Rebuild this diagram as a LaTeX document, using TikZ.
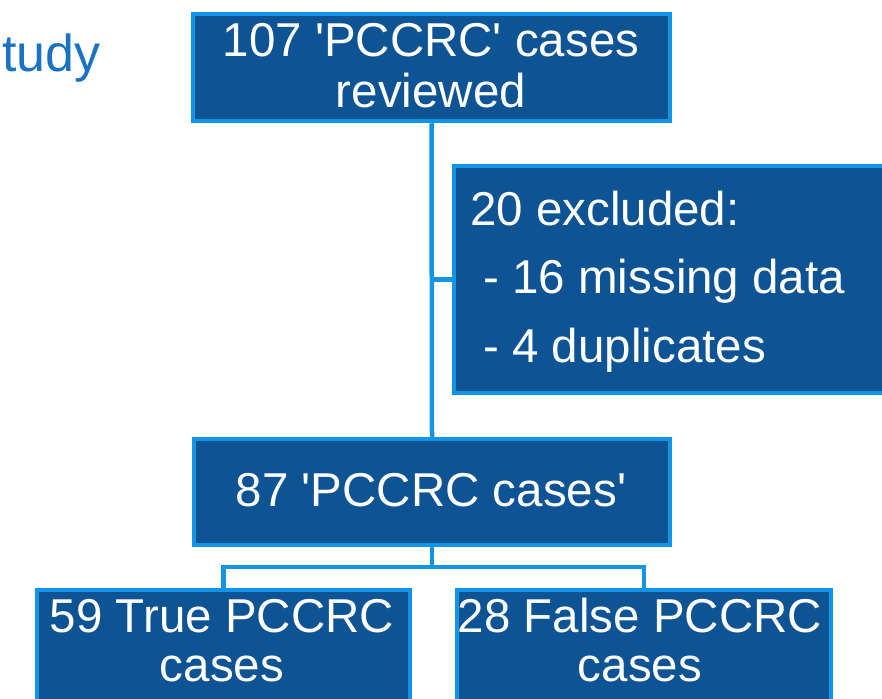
\documentclass[tikz,border=0pt]{standalone}
\usepackage{fontspec}
\setmainfont{Liberation Sans}
\definecolor{boxfill}{HTML}{0E5394}
\definecolor{boxline}{HTML}{1394E4}
\definecolor{titleblue}{HTML}{1A72C2}
\newcommand{\sq}{\textquotesingle}
\tikzset{
  box/.style={draw=boxline, fill=boxfill, line width=4.5pt, rectangle, inner sep=0pt},
  conn/.style={draw=boxline, line width=4.5pt},
  txt/.style={text=white, inner sep=0pt, font=\fontsize{47.5}{50}\selectfont},
}
\begin{document}
\begin{tikzpicture}[x=1pt,y=-1pt]
\useasboundingbox (0,0) rectangle (882,698);
% boxes (positions)
\node[box, minimum width=477pt, minimum height=107pt] (b1) at (431.5,67.5) {};
\node[box, minimum width=446pt, minimum height=227pt] (b2) at (677,279.5) {};
\node[box, minimum width=476pt, minimum height=106pt] (b3) at (432,492) {};
\node[box, minimum width=373pt, minimum height=130pt] (b4) at (223.5,655) {};
\node[box, minimum width=374pt, minimum height=130pt] (b5) at (644,655) {};
\coordinate (j) at (432,567);
% connectors
\draw[conn] (b1.south) -- (b3.north);
\draw[conn] (b1.south |- b2.west) -- (b2.west);
\draw[conn] (b3.south) -- (j);
\draw[conn] (b4.north) |- (j) -| (b5.north);
% redraw boxes on top
\node[box, minimum width=477pt, minimum height=107pt] at (b1) {};
\node[box, minimum width=446pt, minimum height=227pt] at (b2) {};
\node[box, minimum width=476pt, minimum height=106pt] at (b3) {};
\node[box, minimum width=373pt, minimum height=130pt] at (b4) {};
\node[box, minimum width=374pt, minimum height=130pt] at (b5) {};
% texts
\node[anchor=base east, inner sep=0pt, text=titleblue, font=\fontsize{52}{56}\selectfont] (title) at (101,72) {tudy};
\node[txt, anchor=base] (t1a) at (431,57) {107 \sq PCCRC\sq{} cases};
\node[txt, anchor=base] (t1b) at (431,107) {reviewed};
\node[txt, anchor=base west] (t2a) at (470,225) {20 excluded:};
\node[txt, anchor=base west] (t2b) at (470,293) {\ - 16 missing data};
\node[txt, anchor=base west] (t2c) at (470,362) {\ - 4 duplicates};
\node[txt, anchor=base] (t3) at (431,506) {87 \sq PCCRC cases\sq};
\node[txt, anchor=base] (t4a) at (222,632) {59 True PCCRC};
\node[txt, anchor=base] (t4b) at (222,681) {cases};
\node[txt, anchor=base] (t5a) at (640,632) {28 False PCCRC};
\node[txt, anchor=base] (t5b) at (640,681) {cases};
\end{tikzpicture}
\end{document}
